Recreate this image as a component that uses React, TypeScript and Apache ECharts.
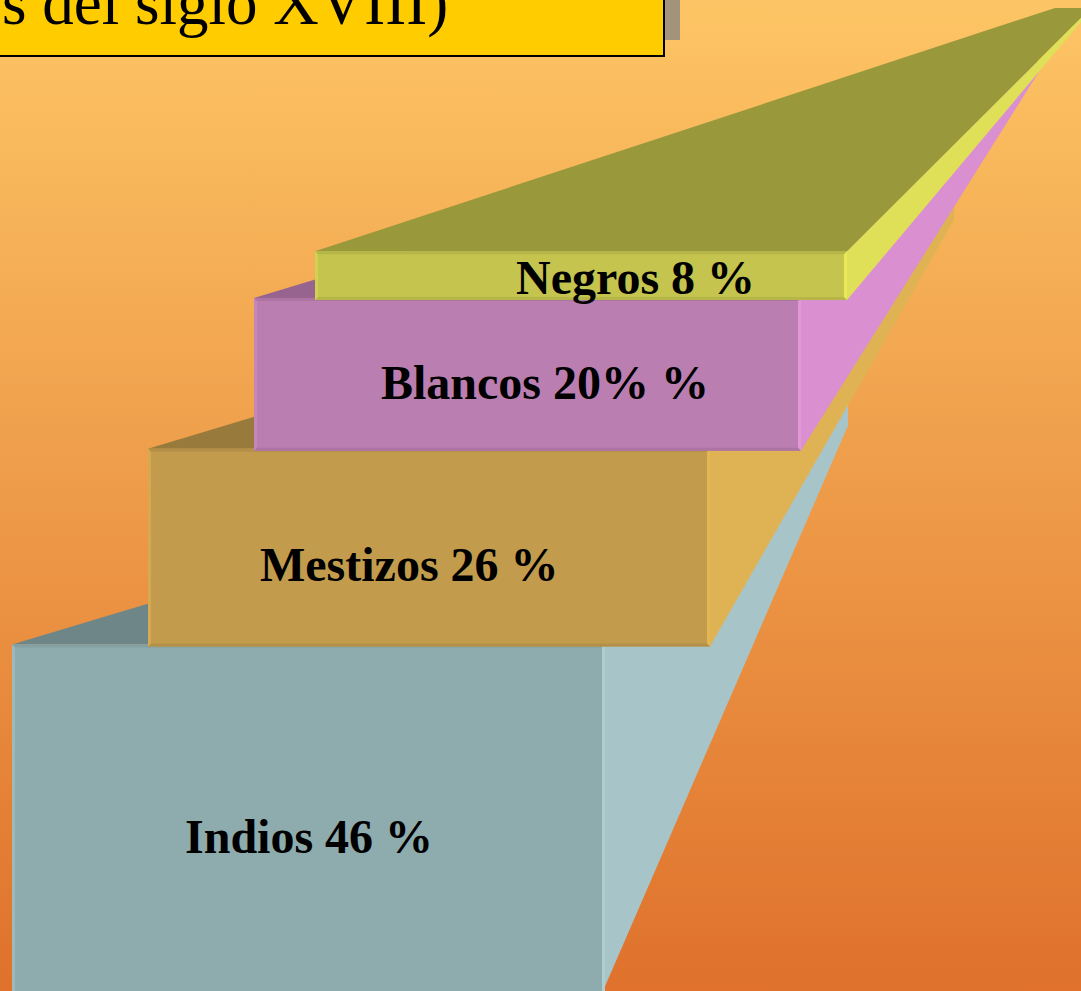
import React, { useEffect, useRef } from "react";
import * as echarts from "echarts";

const categories = ["Indios", "Mestizos", "Blancos", "Negros"];
const percentages = [46, 26, 20, 8];
const drawnHeights = [46, 26, 20, 6.2];
const labels = ["Indios 46 %", "Mestizos 26 %", "Blancos 20% %", "Negros 8 %"];
const titleFragment = "s del siglo XVIII)";

const faceLeft = [12, 148, 254, 315];
const faceRight = [605, 710, 801, 847];
const backLeft = [815, 955, 1041, 1055];
const backRight = [848, 954, 1040, 1091];
const backTopY = [404, 207, 60, 8];
const backBottomY = [426, 220, 70, 10];
const labelX = [185, 260, 381, 516];

const faceColors = ["#8eabad", "#c29c4c", "#bb7eb1", "#c4c44e"];
const sideColors = ["#a7c5c9", "#dfb354", "#da8fd0", "#e0e058"];
const topColors = ["#6f8688", "#987b3c", "#96648e", "#99993c"];
const leftBevel = ["#9cb9bb", "#d5a94f", "#c487ba", "#d0d052"];
const rightBevel = ["#aecdd0", "#e3b654", "#e298d6", "#e8e858"];
const edgeBevel = ["#84a0a2", "#b39048", "#ae74a4", "#b5b548"];

export default function App() {
  const ref = useRef<HTMLDivElement>(null);
  useEffect(() => {
    document.body.style.margin = "0";
    const chart = echarts.init(ref.current!, undefined, { renderer: "svg" });
    let cum = 0;
    const rows = categories.map((c, i) => {
      const base = cum;
      cum += drawnHeights[i];
      return { name: c, value: [i, base, cum, percentages[i]] };
    });
    const poly = (points: number[][], fill: string) => ({
      type: "polygon",
      shape: { points },
      style: { fill },
      silent: true,
    });
    chart.setOption({
      animation: false,
      backgroundColor: {
        type: "linear",
        x: 0,
        y: 0,
        x2: 0,
        y2: 1,
        colorStops: [
          { offset: 0, color: "#fdc565" },
          { offset: 1, color: "#df712c" },
        ],
      },
      grid: { left: 0, right: 0, top: 0, bottom: -1 },
      xAxis: { type: "value", min: 0, max: 1081, show: false },
      yAxis: { type: "value", min: 0, max: 131.56, show: false },
      graphic: [
        { type: "rect", shape: { x: -4, y: -4, width: 684, height: 44 }, style: { fill: "#a3937a" } },
        { type: "rect", shape: { x: -4, y: -4, width: 668, height: 60 }, style: { fill: "#ffcc00", stroke: "#000", lineWidth: 2 } },
        {
          type: "text",
          x: 2,
          y: 34,
          style: {
            text: titleFragment,
            fill: "#000",
            font: '63px "Liberation Serif"',
            textAlign: "left",
            verticalAlign: "bottom",
          },
          silent: true,
        },
      ],
      series: [
        {
          type: "custom",
          coordinateSystem: "cartesian2d",
          clip: false,
          data: rows,
          encode: { x: 0, y: 2 },
          renderItem: (_p: any, api: any) => {
            const i = api.value(0) as number;
            const pBottom = api.coord([faceLeft[i], api.value(1)]);
            const pTop = api.coord([faceRight[i], api.value(2)]);
            const l = pBottom[0];
            const sideB = pBottom[1] + (i === 0 ? 0 : 2);
            const b = pBottom[1] + (i === 0 ? 6 : 2);
            const r = pTop[0];
            const t = pTop[1];
            const bevel = 3;
            const backY = api.coord([0, (992 - backTopY[i]) / 7.54])[1];
            const backYB = api.coord([0, (992 - backBottomY[i]) / 7.54])[1];
            const xBL = api.coord([backLeft[i], 0])[0];
            const xBR = api.coord([backRight[i], 0])[0];
            const sideR = i === 0 ? r - 2 : r;
            return {
              type: "group",
              children: [
                poly([[l, t], [xBL, backY], [xBR, backY], [r, t]], topColors[i]),
                poly([[r, t], [xBR, backY], [xBR, backYB], [sideR, sideB]], sideColors[i]),
                poly([[l, t], [r, t], [r, b], [l, b]], faceColors[i]),
                poly([[l, t], [r, t], [r - bevel, t + bevel], [l + bevel, t + bevel]], edgeBevel[i]),
                poly([[l, b], [r, b], [r - bevel, b - bevel], [l + bevel, b - bevel]], edgeBevel[i]),
                poly([[l, t], [l + bevel, t + bevel], [l + bevel, b - bevel], [l, b]], leftBevel[i]),
                poly([[r, t], [r - bevel, t + bevel], [r - bevel, b - bevel], [r, b]], rightBevel[i]),
              ],
            };
          },
          z: 2,
        },
        {
          type: "custom",
          coordinateSystem: "cartesian2d",
          clip: false,
          data: rows,
          encode: { x: 0, y: 2 },
          z: 3,
          renderItem: (_p: any, api: any) => {
            const i = api.value(0) as number;
            const bottomPx = api.coord([0, api.value(1)])[1];
            const topPx = api.coord([0, api.value(2)])[1];
            const clampBottom = Math.min(bottomPx, 991);
            const mid = i === 0 ? 836 : (clampBottom + topPx) / 2 + [0, 18, 9, 3][i];
            return {
              type: "text",
              silent: true,
              x: api.coord([labelX[i], 0])[0],
              y: mid,
              style: {
                text: labels[i],
                fill: "#000",
                font: 'bold 48px "Liberation Serif"',
                align: "left",
                verticalAlign: "middle",
              },
            };
          },
        },
      ],
    });
    return () => chart.dispose();
  }, []);
  return <div ref={ref} style={{ position: "fixed", left: 0, top: 0, width: 1081, height: 991 }} />;
}
